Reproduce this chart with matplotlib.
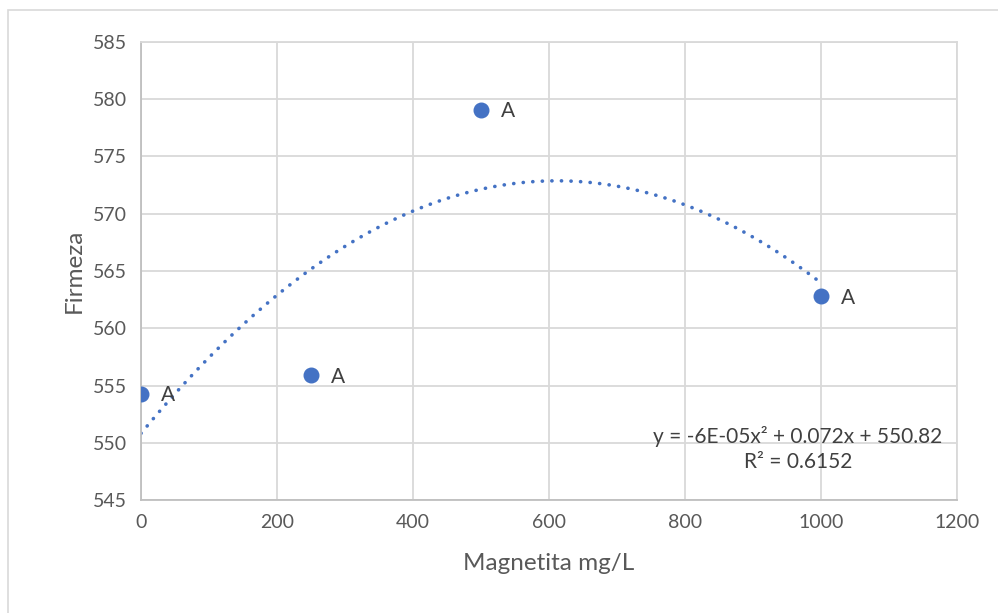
import numpy as np
import matplotlib.pyplot as plt
from matplotlib.patches import Rectangle

# datos
magnetita = [0, 250, 500, 1000]
firmeza = [554.3, 555.9, 579.1, 562.8]
etiquetas = ["A", "A", "A", "A"]

x_ticks = [0, 200, 400, 600, 800, 1000, 1200]
y_ticks = [545, 550, 555, 560, 565, 570, 575, 580, 585]

azul = "#4472C4"
gris_texto = "#595959"
gris_linea = "#D9D9D9"

plt.rcParams['font.family'] = ['Lato', 'DejaVu Sans']

fig = plt.figure(figsize=(9.98, 6.13), dpi=100)
ax = fig.add_axes([0.1413, 0.1843, 0.8177, 0.7472])

# borde exterior del grafico
fig.patches.append(Rectangle((0.008, -0.01), 1.5, 0.994, transform=fig.transFigure,
                             fill=False, edgecolor=gris_linea, linewidth=1.2))

ax.scatter(magnetita, firmeza, s=110, color=azul, zorder=3)
for x, y, t in zip(magnetita, firmeza, etiquetas):
    ax.annotate(t, (x, y), xytext=(14, -1), textcoords="offset points",
                va="center", ha="left", fontsize=15, color="#404040")

# linea de tendencia polinomica (orden 2)
coef = np.polyfit(magnetita, firmeza, 2)
xs = np.linspace(0, 1000, 200)
ax.plot(xs, np.polyval(coef, xs), linestyle=(0, (0.05, 2.6)), linewidth=2.6,
        color=azul, dash_capstyle="round", zorder=2)

ax.text(966, 549.45, "y = -6E-05x² + 0.072x + 550.82\nR² = 0.6152",
        ha="center", va="center", fontsize=15, color="#404040", linespacing=1.3)

ax.set_xlim(0, 1200)
ax.set_ylim(545, 585)
ax.set_xticks(x_ticks)
ax.set_yticks(y_ticks)
ax.grid(True, color=gris_linea, linewidth=1.3)
ax.set_axisbelow(True)
for s in ax.spines.values():
    s.set_color(gris_linea)
    s.set_linewidth(1.3)
ax.spines["left"].set_color("#BFBFBF")
ax.spines["bottom"].set_color("#BFBFBF")
ax.tick_params(length=0, labelsize=14, labelcolor=gris_texto, pad=10)

ax.set_xlabel("Magnetita mg/L", fontsize=17.5, color=gris_texto, labelpad=16)
ax.set_ylabel("Firmeza", fontsize=17.5, color=gris_texto, labelpad=6)

fig.savefig("out.png", dpi=100)
